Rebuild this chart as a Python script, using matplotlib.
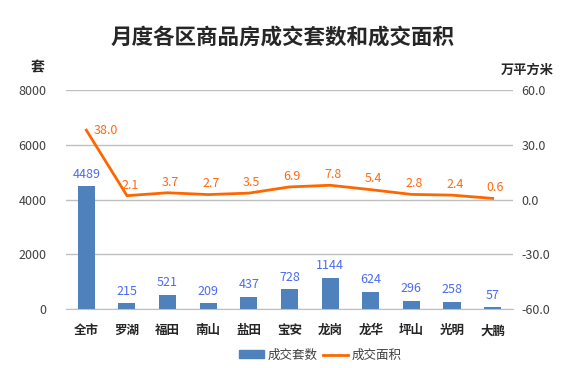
import numpy as np
import matplotlib.pyplot as plt
from matplotlib.patches import Patch
from matplotlib.lines import Line2D

plt.rcParams['font.family'] = ['Noto Sans CJK SC', 'DejaVu Sans']

districts = ['全市', '罗湖', '福田', '南山', '盐田', '宝安', '龙岗', '龙华', '坪山', '光明', '大鹏']
units = [4489, 215, 521, 209, 437, 728, 1144, 624, 296, 258, 57]
area = [38.0, 2.1, 3.7, 2.7, 3.5, 6.9, 7.8, 5.4, 2.8, 2.4, 0.6]

bar_color = '#4F81BD'
bar_text = '#4A6CF0'
line_color = '#FF6600'
line_text = '#FF6A10'
grid_color = '#BFBFBF'
tick_color = '#404040'

fig = plt.figure(figsize=(5.77, 3.68), dpi=100)
ax = fig.add_axes([0.1144, 0.1603, 0.7746, 0.5951])
ax2 = ax.twinx()

x = np.arange(len(districts))
ax.bar(x, units, width=0.42, color=bar_color, zorder=2)
for xi, v in zip(x, units):
    ax.annotate(str(v), (xi, v), xytext=(0, 4), textcoords='offset points',
                ha='center', va='bottom', fontsize=9, color=bar_text)

ax2.plot(x, area, color=line_color, lw=2, zorder=3)
for i, (xi, v) in enumerate(zip(x, area)):
    if i == 0:
        ax2.annotate(f'{v:.1f}', (xi, v), xytext=(5, 0), textcoords='offset points',
                     ha='left', va='center', fontsize=9, color=line_text)
    else:
        ax2.annotate(f'{v:.1f}', (xi, v), xytext=(2, 3), textcoords='offset points',
                     ha='center', va='bottom', fontsize=9, color=line_text)

ax.set_xlim(-0.5, len(districts) - 0.5)
ax.set_ylim(0, 8000)
ax.set_yticks([0, 2000, 4000, 6000, 8000])
ax2.set_ylim(-60, 60)
ax2.set_yticks([-60, -30, 0, 30, 60])
ax2.set_yticklabels([f'{t:.1f}' for t in [-60, -30, 0, 30, 60]])

ax.yaxis.grid(True, color=grid_color, lw=1, zorder=0)
ax.set_axisbelow(True)
for a in (ax, ax2):
    for s in a.spines.values():
        s.set_visible(False)
    a.tick_params(length=0, labelsize=9, colors=tick_color)
ax.spines['bottom'].set_visible(True)
ax.spines['bottom'].set_color(grid_color)
ax.tick_params(axis='y', pad=14)
ax2.tick_params(axis='y', pad=6)

ax.set_xticks(x)
ax.set_xticklabels(districts, fontsize=9, fontweight='bold', color='#262626')
ax.tick_params(axis='x', pad=11)

fig.text(0.066, 0.805, '套', fontsize=10, fontweight='bold', ha='center', color='#262626')
fig.text(0.913, 0.8, '万平方米', fontsize=9.5, fontweight='bold', ha='center', color='#262626')
fig.text(0.49, 0.9, '月度各区商品房成交套数和成交面积', fontsize=15.5, fontweight='bold',
         ha='center', va='center', color='#262626')

handles = [Patch(color=bar_color), Line2D([0], [0], color=line_color, lw=2)]
fig.legend(handles, ['成交套数', '成交面积'], loc='center', bbox_to_anchor=(0.555, 0.035),
           ncol=2, frameon=False, fontsize=9, handlelength=2.0, handleheight=0.55,
           handletextpad=0.3, columnspacing=0.4, labelcolor='#404040')

fig.savefig('out.png', dpi=100)
